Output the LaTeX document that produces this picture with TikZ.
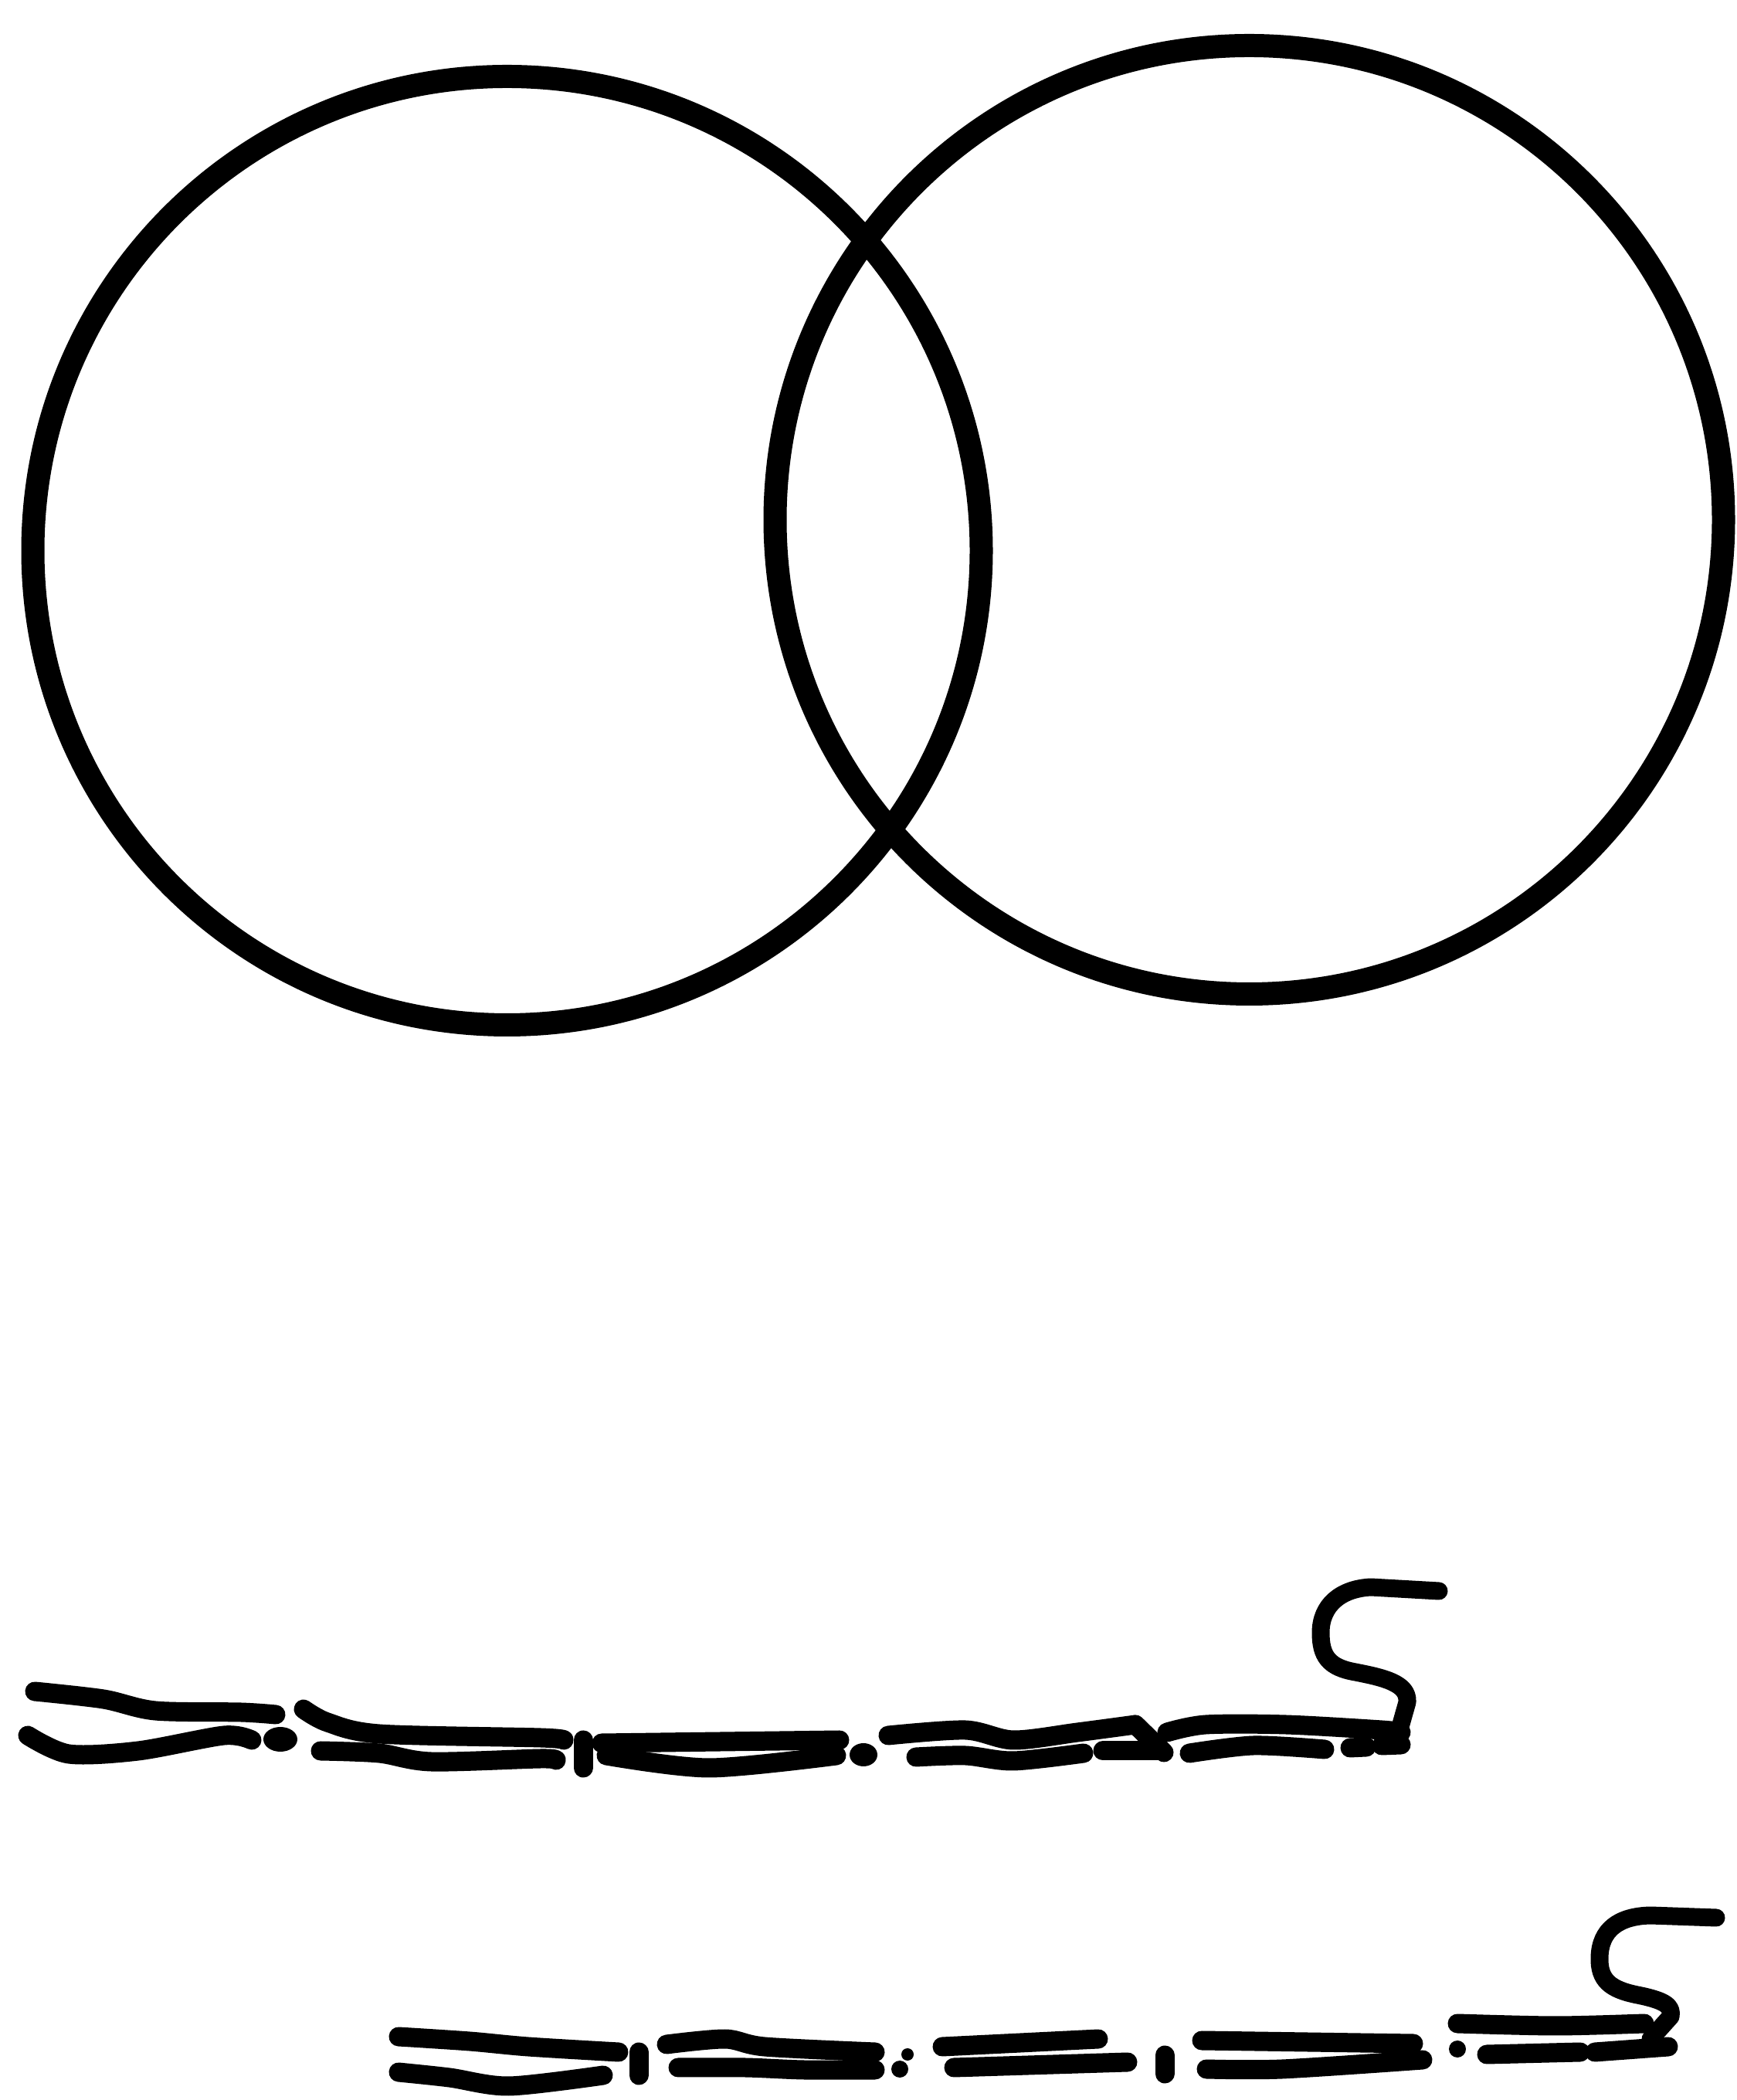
\documentclass[tikz,border=0pt]{standalone}
\usepackage{tikz}
\tikzset{
    ringline/.style={line width=0.3cm, black},
    cordline/.style={line width=0.25cm, black, line cap=round, line join=round},
    hookline/.style={line width=0.23cm, black, line cap=round, line join=round},
    speck/.style={fill=black}
}

\begin{document}
\begin{tikzpicture}
    \useasboundingbox (0,0) rectangle (22.49,27.19);

    \coordinate (leftc) at (6.565,20.06);
    \coordinate (rightc) at (16.175,20.46);
    \draw [ringline](leftc) circle (6.14);
    \draw [ringline](rightc) circle (6.14);

    % upper cord
    \draw [cordline] plot[smooth] coordinates {(0.45,5.29) (1.34,5.19) (2.01,5.04) (3.12,5.02) (3.57,4.99)};
    \draw [cordline] plot[smooth] coordinates {(0.36,4.72) (0.89,4.48) (1.79,4.52) (2.90,4.72) (3.26,4.66)};
    \fill [speck] (3.63,4.67) ellipse (0.22 and 0.16);
    \draw [cordline] plot[smooth] coordinates {(3.93,5.06) (4.24,4.89) (4.91,4.74) (7.00,4.69) (7.30,4.66)};
    \draw [cordline] plot[smooth] coordinates {(4.15,4.52) (4.91,4.49) (5.58,4.38) (7.00,4.42) (7.20,4.40)};
    \draw [cordline] (7.55,4.66) -- (7.55,4.30);
    \draw [cordline] (7.79,4.62) -- (10.87,4.66);
    \draw [cordline] plot[smooth] coordinates {(7.85,4.46) (9.18,4.30) (10.83,4.46)};
    \fill [speck] (11.18,4.47) ellipse (0.18 and 0.15);
    \draw [cordline] plot[smooth] coordinates {(11.50,4.72) (12.50,4.79) (13.12,4.66) (13.95,4.76) (14.70,4.86)};
    \draw [cordline] (14.70,4.86) -- (15.07,4.50);
    \draw [cordline] plot[smooth] coordinates {(11.86,4.44) (12.50,4.46) (13.12,4.39) (14.03,4.49)};
    \draw [cordline] (14.28,4.52) -- (15.00,4.52);
    \draw [cordline] plot[smooth] coordinates {(15.11,4.76) (15.61,4.86) (16.65,4.86) (17.89,4.79) (18.14,4.76)};
    \draw [cordline] plot[smooth] coordinates {(15.40,4.49) (16.23,4.59) (17.15,4.54)};
    \draw [cordline] (17.48,4.56) -- (17.69,4.57);
    \draw [cordline] (17.89,4.59) -- (18.14,4.60);
    \draw [hookline] (18.63,6.59) -- (17.75,6.64)
        .. controls (17.35,6.62) and (17.10,6.40) .. (17.10,6.05)
        .. controls (17.10,5.75) and (17.20,5.60) .. (17.55,5.54)
        .. controls (17.90,5.47) and (18.24,5.40) .. (18.22,5.15)
        -- (18.07,4.62);

    % lower cord
    \draw [cordline] plot[smooth] coordinates {(5.16,0.82) (6.08,0.76) (6.84,0.69) (8.01,0.62)};
    \draw [cordline] plot[smooth] coordinates {(5.16,0.36) (5.82,0.29) (6.59,0.18) (7.81,0.32)};
    \draw [cordline] (8.27,0.62) -- (8.27,0.32);
    \draw [cordline] plot[smooth] coordinates {(8.63,0.72) (9.39,0.79) (9.90,0.69) (11.33,0.62)};
    \draw [cordline] plot[smooth] coordinates {(8.78,0.42) (9.65,0.42) (10.41,0.39) (11.33,0.39)};
    \fill [speck] (11.75,0.59) circle (0.08);
    \fill [speck] (11.65,0.40) circle (0.11);
    \draw [cordline] (12.20,0.69) -- (14.22,0.79);
    \draw [cordline] (12.35,0.42) -- (14.60,0.49);
    \draw [cordline] (15.08,0.58) -- (15.08,0.34);
    \draw [cordline] (15.56,0.77) -- (18.30,0.73);
    \draw [cordline] plot[smooth] coordinates {(15.62,0.40) (16.60,0.40) (18.42,0.52)};
    \fill [speck] (18.87,0.66) circle (0.11);
    \draw [cordline] plot[smooth] coordinates {(18.87,0.99) (20.14,0.96) (21.29,0.99)};
    \draw [cordline] (19.25,0.59) -- (20.46,0.62);
    \draw [cordline] (20.65,0.62) -- (21.60,0.69);
    \draw [hookline] (22.22,2.36) -- (21.37,2.39)
        .. controls (20.95,2.38) and (20.72,2.20) .. (20.71,1.85)
        .. controls (20.70,1.55) and (20.85,1.43) .. (21.20,1.36)
        .. controls (21.55,1.29) and (21.66,1.22) .. (21.63,1.08)
        -- (21.37,0.79);
\end{tikzpicture}
\end{document}
